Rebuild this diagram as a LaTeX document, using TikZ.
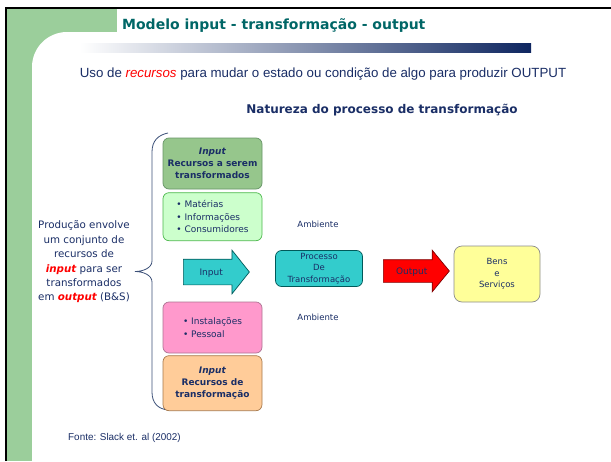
\documentclass[tikz,border=0pt]{standalone}
\usepackage{fontspec}
\setmainfont{DejaVu Sans}
\newfontfamily\arialfont{Liberation Sans}
\usepackage{tikz}
\usetikzlibrary{shapes.arrows,positioning}

\definecolor{bggreen}{RGB}{155,206,155}
\definecolor{titleteal}{RGB}{0,102,102}
\definecolor{txtnavy}{RGB}{26,46,102}
\definecolor{gradnavy}{RGB}{14,38,96}
\definecolor{bracecol}{RGB}{60,80,120}
\definecolor{darkgreen}{RGB}{150,198,140}
\definecolor{lightgreen}{RGB}{204,255,204}
\definecolor{pinkbox}{RGB}{255,153,204}
\definecolor{orangebox}{RGB}{255,204,153}
\definecolor{tealbox}{RGB}{51,204,204}
\definecolor{yellowbox}{RGB}{255,255,153}

\tikzset{
  resbox/.style={draw, rounded corners=6pt, minimum width=99pt, align=center,
    text=txtnavy, line width=0.7pt, inner sep=2pt,
    font=\fontsize{9}{11.8}\selectfont},
  listbox/.style={resbox, align=left, font=\fontsize{9}{12.5}\selectfont},
  bigarrow/.style={single arrow, draw, line width=0.7pt, text=txtnavy,
    font=\fontsize{9}{11}\selectfont, text height=7pt, text depth=1pt,
    anchor=tail},
  label/.style={text=txtnavy, font=\fontsize{8.5}{11.5}\selectfont, align=center, inner sep=0pt}
}

\begin{document}
\begin{tikzpicture}[x=1pt, y=-1pt]
\useasboundingbox (0,0) rectangle (611,461);
\clip (0,0) rectangle (611,461);

% slide background
\fill[bggreen] (7,8) rectangle (117,461);
\fill[white, rounded corners=35pt] (32,32) rectangle (660,520);
\draw[line width=2.2pt] (6.2,461) -- (6.2,7.8) -- (611,7.8);
\shade[left color=white, right color=gradnavy] (80,43) rectangle (531,52);

% titles
\node[anchor=base west, inner sep=0pt, text=titleteal, font=\bfseries\fontsize{14}{16}\selectfont] (TITLE) at (122,29) {Modelo input - transformação - output};
\node[anchor=base, inner sep=0pt, text=txtnavy, font=\arialfont\fontsize{13.3}{15}\selectfont] (SUB) at (323,77) {Uso de \textcolor{red}{\itshape recursos} para mudar o estado ou condição de algo para produzir OUTPUT};
\node[anchor=base, inner sep=0pt, text=txtnavy, font=\bfseries\fontsize{12}{14}\selectfont] (NAT) at (382,113) {Natureza do processo de transformação};

% left text and brace
\node[label, font=\fontsize{10.3}{14.4}\selectfont] (PROD) at (84,262) {Produção envolve\\um conjunto de\\recursos de\\\textcolor{red}{\bfseries\itshape input} para ser\\transformados\\em \textcolor{red}{\bfseries\itshape output} (B\&S)};
\draw[bracecol, line width=0.8pt] (168,133) .. controls (158,135) and (152,141) .. (152,152) -- (152,261)
  .. controls (152,268) and (143,271.5) .. (135,271.5) .. controls (143,271.5) and (152,275) .. (152,282)
  -- (152,392) .. controls (152,403) and (158,409) .. (168,410);

% input resources
\node[resbox, fill=darkgreen, draw=green!30!black!60, minimum height=51pt] (RT) at (212.5,163.5) {\textbf{\textit{Input}}\\\textbf{Recursos a serem}\\\textbf{transformados}};
\node[listbox, fill=lightgreen, draw=green!60!black!70, minimum height=48pt] (MAT) [below=3pt of RT] {• Matérias\\• Informações\\• Consumidores};
\node[listbox, fill=pinkbox, draw=magenta!50!black!70, minimum height=51pt] (INST) at (212.5,327.5) {• Instalações\\• Pessoal};
\node[resbox, fill=orangebox, draw=orange!50!black!70, minimum height=55pt] (RTR) [below=2pt of INST] {\textbf{\textit{Input}}\\\textbf{Recursos de}\\\textbf{transformação}};

% process
\node[bigarrow, fill=tealbox, draw=teal!70!black, inner xsep=13pt, inner ysep=8.5pt,
  single arrow head extend=9pt, single arrow tip angle=103, minimum height=66pt] (IN) at (183,272) {Input};
\node[label, draw=teal!70!black, fill=tealbox, rounded corners=6pt, line width=0.7pt, minimum width=87pt, minimum height=36pt] (PROC) at (319,268.5) {Processo\\De\\Transformação};
\node[label] (AMB1) at (318,224) {Ambiente};
\node[label] (AMB2) at (318,317) {Ambiente};
\node[bigarrow, fill=red, draw=red!50!black, inner xsep=9pt, inner ysep=7pt,
  single arrow head extend=9.5pt, single arrow tip angle=101, minimum height=66pt] (OUT) at (383,271) {Output};
\node[label, draw=black!45, fill=yellowbox, rounded corners=8pt, line width=0.7pt, minimum width=86pt, minimum height=56pt] (BENS) at (497,274) {Bens\\e\\Serviços};

% source
\node[anchor=base west, inner sep=0pt, text=txtnavy, font=\arialfont\fontsize{9.9}{12}\selectfont] (FONTE) at (68,440) {Fonte: Slack et. al (2002)};
\end{tikzpicture}
\end{document}
